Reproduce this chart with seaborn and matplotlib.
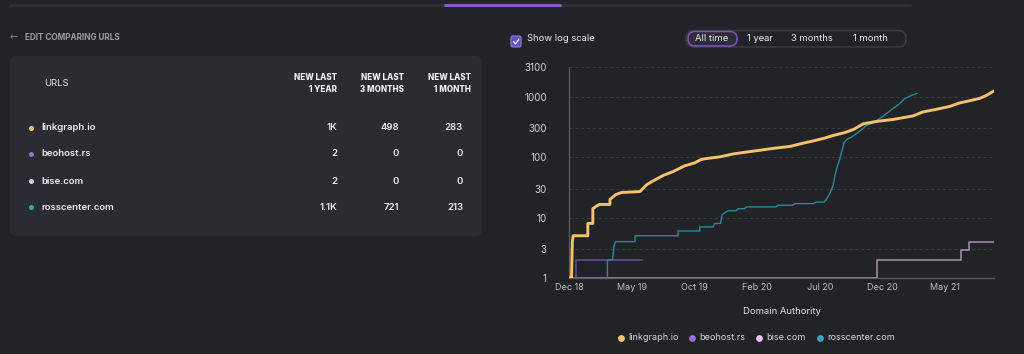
import numpy as np
import pandas as pd
import matplotlib
matplotlib.use("Agg")
import matplotlib.pyplot as plt
from matplotlib.patches import FancyBboxPatch
import seaborn as sns

# --- datos ---
start_date = "2018-12-10"

urls = ["linkgraph.io", "beohost.rs", "bise.com", "rosscenter.com"]
new_1y = ["1K", "2", "2", "1.1K"]
new_3m = ["498", "0", "0", "721"]
new_1m = ["283", "0", "0", "213"]

# puntos (días desde el inicio, valor acumulado)
linkgraph_days = [0, 6, 8, 10, 45, 45, 57, 57, 66, 73, 98, 98, 112, 126, 170, 186, 200, 226, 250,
                  277, 300, 317, 340, 361, 393, 420, 457, 490, 528, 560, 584, 610, 632, 660, 680,
                  704, 736, 775, 823, 847, 880, 911, 935, 960, 983, 1000, 1017]
linkgraph_vals = [1, 1, 4, 5, 5, 8, 8, 14, 15.5, 16.5, 16.5, 20, 24, 26, 27, 35, 40, 50, 58,
                  72, 80, 92, 97, 101, 113, 120, 130, 140, 150, 170, 185, 205, 228, 255, 285,
                  355, 390, 420, 480, 560, 620, 690, 790, 860, 940, 1060, 1250]

beohost_days = [0, 17, 174]
beohost_vals = [1, 2, 2]

bise_days = [0, 737, 939, 957, 1017]
bise_vals = [1, 2, 2.9, 3.9, 3.9]

ross_days = [0, 92, 92, 104, 108, 112, 158, 158, 261, 261, 313, 313, 345, 349, 363, 366, 372,
             381, 400, 405, 420, 425, 495, 500, 535, 540, 585, 591, 610, 616, 624, 632, 636,
             642, 648, 652, 658, 664, 676, 696, 712, 728, 752, 772, 791, 803, 819, 833]
ross_vals = [1, 1, 2, 2, 3.5, 4, 4, 5, 5, 6, 6, 7, 7, 8, 8, 11, 12,
             13, 13, 14, 14, 15, 15, 16, 16, 17, 17, 18, 18, 20, 25, 34, 48,
             71, 93, 118, 172, 195, 214, 269, 335, 370, 476, 614, 762, 925, 1050, 1130]

y_ticks = [1, 3, 10, 30, 100, 300, 1000, 3100]
x_tick_days = [0, 150, 300, 450, 600, 750, 900]
x_tick_labels = ["Dec 18", "May 19", "Oct 19", "Feb 20", "Jul 20", "Dec 20", "May 21"]
x_end_day = 1017

line_colors = ["#f7c16e", "#6c4c9e", "#a993b3", "#2b8999"]
dot_colors = ["#f8c27a", "#9a70d4", "#f1c2ee", "#38a6c0"]
line_widths = [2.1, 1.1, 1.1, 1.0]
line_steps = ["default", "steps-post", "steps-post", "default"]

# --- estilo ---
bg = "#222327"
panel = "#2b2c31"
sns.set_theme(style="dark")
plt.rcParams["font.family"] = ["Inter", "DejaVu Sans"]

fig = plt.figure(figsize=(10.24, 3.54), dpi=100, facecolor=bg)

# capa de fondo en coordenadas de píxel
ov = fig.add_axes([0, 0, 1, 1], zorder=0)
ov.set_xlim(0, 1024)
ov.set_ylim(354, 0)
ov.axis("off")
ov.set_facecolor(bg)

# línea superior con pestaña activa
ov.plot([10, 910], [5, 5], color="#2f3035", lw=2, solid_capstyle="round")
ov.plot([445, 560], [5, 5], color="#8d56c2", lw=2.2)

# encabezado izquierda
ov.text(14, 37, "\u2190", color="#8a8b90", fontsize=7, va="center", ha="center",
        family=["DejaVu Sans"])
ov.text(25, 37, "EDIT COMPARING URLS", color="#9a9ba0", fontsize=5.9, fontweight="bold", va="center")

# panel tabla
ov.add_patch(FancyBboxPatch((10, 56), 472, 180, boxstyle="round,pad=0,rounding_size=6",
                            facecolor=panel, edgecolor="none"))
ov.text(44, 83, "URLS", color="#e4e4e8", fontsize=6.8, va="center")
for xr, l2 in zip([337, 404, 471], ["1 YEAR", "3 MONTHS", "1 MONTH"]):
    ov.text(xr, 77, "NEW LAST", color="#f4f4f6", fontsize=5.8, fontweight="heavy", ha="right", va="center")
    ov.text(xr, 90, l2, color="#f4f4f6", fontsize=5.8, fontweight="heavy", ha="right", va="center")

row_y = [128, 154, 181, 207]
for i, name in enumerate(urls):
    y = row_y[i]
    ov.scatter([31], [y], s=13, color=dot_colors[i], zorder=3, linewidths=0)
    ov.text(41, y, name, color="#ececef", fontsize=6.9, fontweight="semibold", va="center")
    ov.text(337, y, new_1y[i], color="#ececef", fontsize=6.9, fontweight="semibold", ha="right", va="center")
    ov.text(399, y, new_3m[i], color="#ececef", fontsize=6.9, fontweight="semibold", ha="right", va="center")
    ov.text(463, y, new_1m[i], color="#ececef", fontsize=6.9, fontweight="semibold", ha="right", va="center")

# checkbox "Show log scale"
ov.add_patch(FancyBboxPatch((511, 36), 10, 11, boxstyle="round,pad=0,rounding_size=2",
                            facecolor="#6451c4", edgecolor="#8c7fe6", lw=0.8))
ov.plot([513.5, 515.5, 519], [41.5, 44, 39], color="white", lw=0.9)
ov.text(527, 38.5, "Show log scale", color="#ececef", fontsize=6.8, va="center")

# selector de rango
ov.add_patch(FancyBboxPatch((686, 30.5), 220, 16.5, boxstyle="round,pad=0,rounding_size=8",
                            facecolor="none", edgecolor="#3d3e44", lw=1))
ov.add_patch(FancyBboxPatch((688, 31.5), 49, 14.5, boxstyle="round,pad=0,rounding_size=7",
                            facecolor="#2e2a38", edgecolor="#7f56b8", lw=1.1))
for xc, lab in zip([712, 760, 812, 870], ["All time", "1 year", "3 months", "1 month"]):
    ov.text(xc, 38.5, lab, color="#ececef", fontsize=6.8, ha="center", va="center")

# --- gráfico ---
ax = fig.add_axes([569 / 1024, (354 - 278) / 354, 425 / 1024, 211 / 354], zorder=1)
ax.patch.set_alpha(0)

t0 = pd.Timestamp(start_date)
series = [(linkgraph_days, linkgraph_vals), (beohost_days, beohost_vals),
          (bise_days, bise_vals), (ross_days, ross_vals)]
draw_order = [2, 1, 3, 0]
for i in draw_order:
    d, v = series[i]
    df = pd.DataFrame({"date": t0 + pd.to_timedelta(d, unit="D"), "value": v})
    sns.lineplot(data=df, x="date", y="value", ax=ax, color=line_colors[i], lw=line_widths[i],
                 drawstyle=line_steps[i], estimator=None, sort=False, zorder=3 + (i == 0))

ax.set_yscale("log")
ax.set_ylim(1, 3100)
ax.set_xlim(t0, t0 + pd.Timedelta(days=x_end_day))
ax.set_yticks(y_ticks)
ax.set_yticklabels([str(v) for v in y_ticks])
ax.yaxis.set_minor_locator(matplotlib.ticker.NullLocator())
ax.set_xticks(t0 + pd.to_timedelta(x_tick_days, unit="D"))
ax.set_xticklabels(x_tick_labels)
ax.tick_params(axis="y", length=0, pad=16, labelsize=7.1, labelcolor="#d2d2d6")
ax.tick_params(axis="x", length=0, pad=3.5, labelsize=6.5, labelcolor="#bdbdc2")
ax.set_xlabel("")
ax.set_ylabel("")
ax.grid(False)
for v in y_ticks[1:]:
    ax.axhline(v, color="#3b3c42", lw=0.7, ls=(0, (3, 3)), zorder=1)
for s in ["top", "right"]:
    ax.spines[s].set_visible(False)
for s in ["left", "bottom"]:
    ax.spines[s].set_color("#5a5b61")
    ax.spines[s].set_linewidth(0.9)

# título eje y leyenda
ov.text(782, 311, "Domain Authority", color="#e4e4e8", fontsize=6.8, ha="center", va="center")
leg_dot_x = [621, 692, 759, 820]
for i, name in enumerate(urls):
    ov.scatter([leg_dot_x[i]], [337.5], s=24, color=dot_colors[i], linewidths=0)
    ov.text(leg_dot_x[i] + 7, 337.5, name, color="#d8d8dc", fontsize=6.5, va="center")

fig.savefig("out.png", dpi=100, facecolor=bg)
